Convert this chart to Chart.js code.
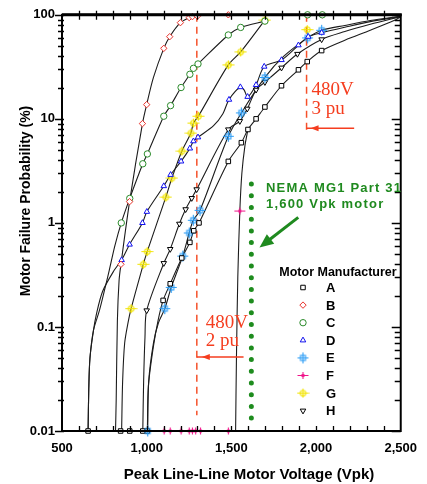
<!DOCTYPE html>
<html>
<head>
<meta charset="utf-8">
<script src="https://cdn.jsdelivr.net/npm/chart.js@4.4.0/dist/chart.umd.min.js"></script>
<style>
  html, body { margin: 0; padding: 0; background: #fff; }
</style>
</head>
<body>
<canvas id="chart" width="427" height="484"></canvas>
<script>
// axis ticks
const xTicks = [500, 1000, 1500, 2000, 2500];
const xTickLabels = ['500', '1,000', '1,500', '2,000', '2,500'];
const yTicks = [0.01, 0.1, 1, 10, 100];
const yTickLabels = ['0.01', '0.1', '1', '10', '100'];

const makers = ['A', 'B', 'C', 'D', 'E', 'F', 'G', 'H'];

// measured points (markers) and fitted curves, [voltage, probability %]
const aMarks = [[1097,0.18],[1139,0.26],[1207,0.46],[1255,0.65],[1278,0.84],[1309,1.0],[1482,3.9],[1559,5.9],[1598,7.9],[1646,10],[1698,13],[1796,20.8],[1896,29.6],[1948,35.5],[2033,45.3]];
const aCurve = [[1004,0.01],[1010,0.027],[1039,0.064],[1068,0.117],[1097,0.18],[1139,0.26],[1207,0.46],[1255,0.65],[1278,0.84],[1309,1.0],[1482,3.9],[1559,5.9],[1598,7.9],[1646,10],[1698,13],[1796,20.8],[1896,29.6],[1948,35.5],[2033,45.3],[2170,57],[2320,71],[2460,88],[2500,96]];

const bMarks = [[848,0.40],[899,1.6],[975,9.0],[1000,13.7],[1101,47.6],[1136,61.6],[1199,84],[1251,94],[1270,96],[1299,97],[1482,100]];
const bCurve = [[816,0.01],[820,0.02],[827,0.115],[837,0.28],[848,0.40],[899,1.6],[975,9.0],[1000,13.7],[1040,25],[1101,47.6],[1136,61.6],[1199,84],[1251,94],[1270,96],[1299,97],[1330,99],[1482,100]];

const cMarks = [[850,1.0],[900,1.72],[977,3.7],[1004,4.6],[1101,10.6],[1141,13.4],[1203,20],[1255,26.8],[1276,30.6],[1303,33.7],[1482,64],[1555,75.6],[1698,87],[1950,100],[2037,100]];
const cCurve = [[654,0.01],[658,0.025],[665,0.05],[686,0.093],[721,0.144],[760,0.26],[779,0.35],[812,0.6],[850,1.0],[900,1.72],[977,3.7],[1004,4.6],[1101,10.6],[1141,13.4],[1203,20],[1255,26.8],[1276,30.6],[1303,33.7],[1482,64],[1555,75.6],[1698,87]];

const dMarks = [[852,0.44],[899,0.62],[975,1.0],[1001,1.28],[1101,2.26],[1141,2.9],[1203,3.9],[1255,5.2],[1276,6.1],[1303,6.65],[1486,15.3],[1553,20.2],[1596,16.3],[1646,21.2],[1694,31.8],[1796,36.8],[1896,51],[1954,61.6],[2033,67.3]];
const dCurve = [[654,0.01],[658,0.025],[665,0.05],[686,0.093],[702,0.13],[740,0.22],[808,0.35],[852,0.44],[899,0.62],[975,1.0],[1001,1.28],[1101,2.26],[1141,2.9],[1203,3.9],[1255,5.2],[1276,6.1],[1303,6.65],[1395,8.6],[1450,11.2],[1486,15.3],[1553,20.2],[1575,19],[1596,16.3],[1646,21.2],[1694,31.8],[1796,36.8],[1896,51],[1954,61.6],[2033,67.3],[2170,76],[2320,86],[2500,96]];

const eMarks = [[1006,0.01],[1107,0.15],[1145,0.24],[1213,0.48],[1251,0.8],[1275,1.06],[1315,1.32],[1482,6.8],[1559,11.4],[1698,25],[1950,60],[2033,71]];
const eCurve = [[1006,0.01],[1012,0.03],[1040,0.07],[1070,0.11],[1107,0.15],[1145,0.24],[1213,0.48],[1251,0.8],[1275,1.06],[1315,1.32],[1482,6.8],[1559,11.4],[1698,25],[1810,40],[1950,60],[2033,71],[2170,79],[2320,88],[2500,97]];

const fMarks = [[1103,0.01],[1139,0.01],[1203,0.01],[1251,0.01],[1270,0.01],[1289,0.01],[1318,0.01],[1482,0.01],[1550,1.3],[1950,100],[2037,100]];
const fCurve = [[1525,0.01],[1530,0.05],[1538,0.3],[1550,1.3],[1562,3.0],[1580,5.5],[1598,7.9]];

const gMarks = [[908,0.15],[980,0.4],[1003,0.53],[1113,1.77],[1149,2.7],[1208,4.9],[1261,7.3],[1276,9.1],[1305,10.6],[1482,33],[1555,44],[1698,89],[1948,72]];
const gCurve = [[852,0.01],[858,0.03],[870,0.07],[890,0.11],[908,0.15],[980,0.4],[1003,0.53],[1113,1.77],[1149,2.7],[1208,4.9],[1261,7.3],[1276,9.1],[1305,10.6],[1482,33],[1555,44],[1698,89]];

const hMarks = [[1000,0.144],[1101,0.41],[1139,0.56],[1193,0.98],[1230,1.35],[1266,1.73],[1295,2.1],[1482,7.9],[1550,9.5],[1594,12.5],[1646,19],[1698,22.5],[1796,31],[1890,42],[2033,58]];
const hCurve = [[977,0.01],[982,0.03],[990,0.08],[1000,0.144],[1101,0.41],[1139,0.56],[1193,0.98],[1230,1.35],[1266,1.73],[1295,2.1],[1482,7.9],[1550,9.5],[1594,12.5],[1646,19],[1698,22.5],[1796,31],[1890,42],[2033,58],[2170,69],[2320,81],[2500,96]];

// motors with no failure, plotted on the bottom axis
const zeroHits = [654, 846, 900, 977, 1004];

// reference voltages
const pu2 = 1296;   // 480 V, 2 pu
const pu3 = 1944;   // 480 V, 3 pu
const nema = 1618;  // NEMA MG1 Part 31 line

const pts = a => a.map(([x, y]) => ({ x, y }));

function markerCanvas(kind, color) {
    const c = document.createElement('canvas');
    c.width = c.height = 13;
    const g = c.getContext('2d');
    const m = 6.5;
    g.strokeStyle = color;
    g.fillStyle = color;
    g.lineWidth = 1.1;
    g.beginPath();
    if (kind === 'E') {
        g.strokeRect(m - 2.5, m - 2.5, 5, 5);
        g.moveTo(m - 5.5, m); g.lineTo(m + 5.5, m);
        g.moveTo(m, m - 5.5); g.lineTo(m, m + 5.5);
        g.stroke();
    } else if (kind === 'F') {
        g.moveTo(m - 5.5, m); g.lineTo(m + 5.5, m);
        g.moveTo(m, m - 3.5); g.lineTo(m, m + 3.5);
        g.stroke();
        g.beginPath(); g.arc(m, m, 1.8, 0, Math.PI * 2); g.fill();
    } else {
        g.arc(m, m, 2.8, 0, Math.PI * 2);
        g.moveTo(m - 6, m); g.lineTo(m + 6, m);
        g.moveTo(m, m - 4.5); g.lineTo(m, m + 4.5);
        g.stroke();
    }
    return c;
}

const series = {
    A: { marks: aMarks, curve: aCurve, color: '#000000', style: 'rect', rot: 0 },
    B: { marks: bMarks, curve: bCurve, color: '#e8302a', style: 'rectRot', rot: 0 },
    C: { marks: cMarks, curve: cCurve, color: '#2a8a2a', style: 'circle', rot: 0 },
    D: { marks: dMarks, curve: dCurve, color: '#1010ee', style: 'triangle', rot: 0 },
    E: { marks: eMarks, curve: eCurve, color: '#2a9cf5', style: markerCanvas('E', '#2a9cf5'), rot: 0 },
    F: { marks: fMarks, curve: fCurve, color: '#f0148a', style: markerCanvas('F', '#f0148a'), rot: 0 },
    G: { marks: gMarks, curve: gCurve, color: '#f2e400', style: markerCanvas('G', '#f2e400'), rot: 0 },
    H: { marks: hMarks, curve: hCurve, color: '#000000', style: 'triangle', rot: 180 },
};

const datasets = [];
makers.forEach(k => {
    const s = series[k];
    datasets.push({
        label: k,
        data: pts(s.marks),
        showLine: false,
        pointStyle: s.style,
        rotation: s.rot,
        pointRadius: 3.2,
        pointBorderWidth: 1,
        pointBorderColor: s.color,
        pointBackgroundColor: '#ffffff',
        clip: false,
        order: 1,
    });
    datasets.push({
        label: k + ' fit',
        data: pts(s.curve),
        showLine: true,
        borderColor: '#1c1c1c',
        borderWidth: 1.1,
        pointRadius: 0,
        tension: 0.3,
        order: 3,
    });
});
datasets.push({
    label: 'zero',
    data: zeroHits.map(x => ({ x, y: 0.01 })),
    showLine: false, pointStyle: 'rect', pointRadius: 3.2, pointBorderWidth: 1,
    pointBorderColor: '#000', pointBackgroundColor: '#fff', clip: false, order: 1,
});
datasets.push({
    label: '2 pu', data: [{ x: pu2, y: 100 }, { x: pu2, y: 0.0142 }],
    showLine: true, borderColor: '#f5502a', borderWidth: 1.5, borderDash: [7, 5],
    pointRadius: 0, order: 2,
});
datasets.push({
    label: '3 pu', data: [{ x: pu3, y: 100 }, { x: pu3, y: 7.6 }],
    showLine: true, borderColor: '#f5502a', borderWidth: 1.5, borderDash: [7, 5],
    pointRadius: 0, order: 2,
});
datasets.push({
    label: 'NEMA', data: [{ x: nema, y: 2.36 }, { x: nema, y: 0.0125 }],
    showLine: true, borderColor: '#1e8c1e', borderWidth: 5, borderDash: [0, 11.7],
    borderCapStyle: 'round', pointRadius: 0, order: 2,
});

const font = 'bold 13px "Liberation Sans", Arial, sans-serif';

function arrowHead(ctx, tx, ty, fx, fy, len, half) {
    const ang = Math.atan2(ty - fy, tx - fx);
    ctx.beginPath();
    ctx.moveTo(tx, ty);
    ctx.lineTo(tx - len * Math.cos(ang) + half * Math.sin(ang), ty - len * Math.sin(ang) - half * Math.cos(ang));
    ctx.lineTo(tx - len * Math.cos(ang) - half * Math.sin(ang), ty - len * Math.sin(ang) + half * Math.cos(ang));
    ctx.closePath();
    ctx.fill();
}

const decor = {
    id: 'decor',
    afterDatasetsDraw(chart) {
        const { ctx, chartArea: a, scales: { x, y } } = chart;
        ctx.save();

        // frame
        ctx.strokeStyle = '#000';
        ctx.lineWidth = 2;
        ctx.strokeRect(a.left, a.top, a.right - a.left, a.bottom - a.top);
        ctx.lineWidth = 3;
        ctx.beginPath(); ctx.moveTo(a.left, a.top); ctx.lineTo(a.right + 1, a.top); ctx.stroke();

        // x ticks every 100 V
        ctx.lineWidth = 1.3;
        ctx.beginPath();
        for (let v = 600; v < 2500; v += 100) {
            const px = Math.round(x.getPixelForValue(v)) + 0.5;
            ctx.moveTo(px, a.top - 4); ctx.lineTo(px, a.top + 5);
            ctx.moveTo(px, a.bottom); ctx.lineTo(px, a.bottom - 5);
        }
        // log ticks on both sides
        for (let d = 0.01; d < 100; d *= 10) {
            for (let k = 1; k <= 10; k++) {
                const v = d * k;
                const py = Math.round(y.getPixelForValue(v)) + 0.5;
                const major = (k === 1 || k === 10);
                ctx.moveTo(a.left - (major ? 7 : 4), py); ctx.lineTo(a.left + 2, py);
                ctx.moveTo(a.right - (major ? 9 : 6), py); ctx.lineTo(a.right, py);
            }
        }
        ctx.stroke();

        // axis titles
        ctx.fillStyle = '#000';
        ctx.font = 'bold 15px "Liberation Sans", Arial, sans-serif';
        ctx.textAlign = 'center';
        ctx.textBaseline = 'middle';
        ctx.fillText('Peak Line-Line Motor Voltage (Vpk)', 249, 475);
        ctx.save();
        ctx.translate(26, 201);
        ctx.rotate(-Math.PI / 2);
        ctx.font = 'bold 14px "Liberation Sans", Arial, sans-serif';
        ctx.fillText('Motor Failure Probability (%)', 0, 0);
        ctx.restore();

        // 480 V annotations
        const red = '#f53d1f';
        ctx.fillStyle = red;
        ctx.strokeStyle = red;
        ctx.font = '19px "Liberation Serif", "Times New Roman", serif';
        ctx.textAlign = 'left';
        ctx.textBaseline = 'alphabetic';
        const t3 = x.getPixelForValue(pu3) + 5;
        ctx.fillText('480V', t3, 95);
        ctx.fillText('3 pu', t3, 114);
        const t2 = x.getPixelForValue(pu2) + 9;
        ctx.fillText('480V', t2, 328);
        ctx.fillText('2 pu', t2, 346);

        ctx.lineWidth = 1.5;
        const ay3 = y.getPixelForValue(8.1);
        ctx.beginPath();
        ctx.moveTo(x.getPixelForValue(pu3), ay3); ctx.lineTo(x.getPixelForValue(2225), ay3);
        ctx.stroke();
        arrowHead(ctx, x.getPixelForValue(pu3) + 4, ay3, x.getPixelForValue(2225), ay3, 8, 3);
        const ay2 = y.getPixelForValue(0.0514);
        ctx.beginPath();
        ctx.moveTo(x.getPixelForValue(pu2), ay2); ctx.lineTo(x.getPixelForValue(1572), ay2);
        ctx.stroke();
        arrowHead(ctx, x.getPixelForValue(pu2) + 5, ay2, x.getPixelForValue(1572), ay2, 8, 3);

        // NEMA note
        const green = '#1f8a1f';
        ctx.fillStyle = green;
        ctx.strokeStyle = green;
        ctx.font = 'bold 13px "Liberation Sans", Arial, sans-serif';
        ctx.letterSpacing = '1.2px';
        ctx.fillText('NEMA MG1 Part 31', 266, 192);
        ctx.fillText('1,600 Vpk motor', 266, 208);
        ctx.letterSpacing = '0px';
        const gx1 = x.getPixelForValue(1895), gy1 = y.getPixelForValue(1.13);
        const gx2 = x.getPixelForValue(1666), gy2 = y.getPixelForValue(0.58);
        ctx.lineWidth = 3;
        ctx.beginPath(); ctx.moveTo(gx1, gy1); ctx.lineTo(gx2 + 7, gy2 - 5.5); ctx.stroke();
        arrowHead(ctx, gx2, gy2, gx1, gy1, 14, 6);

        // legend
        ctx.fillStyle = '#000';
        ctx.font = 'bold 12.5px "Liberation Sans", Arial, sans-serif';
        ctx.textAlign = 'center';
        ctx.textBaseline = 'middle';
        ctx.fillText('Motor Manufacturer', 338, 273);
        ctx.font = font;
        ctx.textAlign = 'left';
        makers.forEach((k, i) => {
            const s = series[k];
            const ly = 287.5 + i * 17.6;
            ctx.fillStyle = '#000';
            ctx.fillText(k, 326, ly + 1);
            ctx.strokeStyle = s.color;
            ctx.fillStyle = '#fff';
            ctx.lineWidth = 1;
            Chart.helpers.drawPoint(ctx, { pointStyle: s.style, radius: 3.2, rotation: s.rot, borderWidth: 1 }, 303, ly);
        });
        ctx.restore();
    }
};

new Chart(document.getElementById('chart'), {
    type: 'scatter',
    data: { datasets },
    options: {
        responsive: false,
        animation: false,
        layout: { padding: { top: 13, right: 20, left: 0, bottom: 0 } },
        plugins: { legend: { display: false }, tooltip: { enabled: false } },
        scales: {
            x: {
                type: 'linear', min: 500, max: 2500,
                grid: { display: false, drawTicks: false },
                border: { display: false },
                afterBuildTicks: s => { s.ticks = xTicks.map(v => ({ value: v })); },
                afterFit: s => { s.height = 53; },
                ticks: {
                    padding: 10, color: '#000', maxRotation: 0, autoSkip: false,
                    font: { family: '"Liberation Sans", Arial', weight: 'bold', size: 13 },
                    callback: (v, i) => xTickLabels[i],
                },
            },
            y: {
                type: 'logarithmic', min: 0.01, max: 100,
                grid: { display: false, drawTicks: false },
                border: { display: false },
                afterBuildTicks: s => { s.ticks = yTicks.map(v => ({ value: v })); },
                afterFit: s => { s.width = 62; },
                ticks: {
                    padding: 7, color: '#000', autoSkip: false,
                    font: { family: '"Liberation Sans", Arial', weight: 'bold', size: 13 },
                    callback: (v, i) => yTickLabels[i],
                },
            },
        },
    },
    plugins: [decor],
});
</script>
</body>
</html>
